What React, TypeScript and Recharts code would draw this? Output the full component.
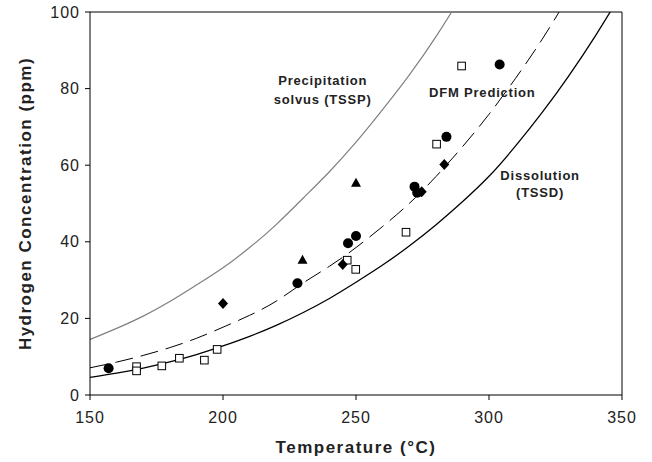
import {
  ComposedChart,
  XAxis,
  YAxis,
  Line,
  Scatter,
  ReferenceLine,
  ReferenceDot,
} from 'recharts';

// curve readings, temperature in °C
const curveTemps = [
  150, 160, 170, 180, 190, 200, 210, 220, 230, 240, 250, 260, 270, 280, 290,
  300, 310, 320, 330, 340, 350,
];
const tssdValues = [
  4.6, 5.7, 7.04, 8.64, 10.55, 12.82, 15.32, 18.19, 21.48, 25.2, 29.43, 33.92,
  38.91, 44.4, 50.45, 57.1, 65.03, 73.78, 83.35, 93.78, 105.1,
];
const dfmValues = [
  7.1, 8.58, 10.33, 12.37, 14.8, 17.7, 20.8, 24.5, 29.2, 33.6, 38.5, 44.0,
  50.0, 57.0, 64.8, 73.3, 82.7, 92.9, 104.2,
];
const tsspValues = [
  14.5, 17.4, 20.6, 24.4, 28.7, 33.2, 38.5, 44.5, 51.3, 58.3, 66, 74.5, 83.5,
  93.5, 104.5,
];

// measured points
const circleT = [157, 228, 247, 250, 272, 273, 284, 304];
const circleC = [7, 29.2, 39.6, 41.5, 54.4, 52.8, 67.4, 86.3];
const squareT = [167.5, 167.5, 177, 183.6, 193, 197.8, 246.7, 249.9, 268.8, 280.3, 289.7];
const squareC = [7.4, 6.3, 7.6, 9.6, 9.1, 11.9, 35.2, 32.8, 42.5, 65.5, 85.9];
const diamondT = [200, 245, 274.7, 283.2];
const diamondC = [23.9, 34.1, 53.1, 60.2];
const triangleT = [229.9, 250];
const triangleC = [35.2, 55.3];

const xTicks = [150, 200, 250, 300, 350];
const yTicks = [0, 20, 40, 60, 80, 100];

const notes = [
  { t: 237.5, c: 82, text: 'Precipitation' },
  { t: 237.5, c: 77.2, text: 'solvus (TSSP)' },
  { t: 297.5, c: 79, text: 'DFM Prediction' },
  { t: 319.2, c: 57.4, text: 'Dissolution' },
  { t: 319.2, c: 52.8, text: '(TSSD)' },
];

const toPoints = (ts: number[], cs: number[]) =>
  cs.map((c, i) => ({ t: ts[i], c }));

const FONT = '"Liberation Sans", Arial, sans-serif';

const CircleShape = (p: any) => <circle cx={p.cx} cy={p.cy} r={5} fill="#000" />;
const SquareShape = (p: any) => (
  <rect x={p.cx - 3.8} y={p.cy - 3.8} width={7.6} height={7.6} fill="#fff" stroke="#000" strokeWidth={1} />
);
const DiamondShape = (p: any) => (
  <polygon
    points={`${p.cx},${p.cy - 5.5} ${p.cx + 5},${p.cy} ${p.cx},${p.cy + 5.5} ${p.cx - 5},${p.cy}`}
    fill="#000"
  />
);
const TriangleShape = (p: any) => (
  <polygon
    points={`${p.cx},${p.cy - 5.5} ${p.cx + 5},${p.cy + 3.5} ${p.cx - 5},${p.cy + 3.5}`}
    fill="#000"
  />
);

const NoteLabel = (text: string) => (props: any) => {
  const { viewBox } = props;
  return (
    <text
      x={viewBox.x}
      y={viewBox.y}
      textAnchor="middle"
      dominantBaseline="central"
      fontFamily={FONT}
      fontWeight="bold"
      fontSize={13}
      letterSpacing={0.8}
      fill="#222"
    >
      {text}
    </text>
  );
};

const App = () => {
  const tssd = toPoints(curveTemps, tssdValues);
  const dfm = toPoints(curveTemps, dfmValues);
  const tssp = toPoints(curveTemps, tsspValues);

  return (
    <div style={{ position: 'absolute', left: 0, top: 0, width: 652, height: 462, background: '#fff' }}>
      <ComposedChart
        width={652}
        height={462}
        margin={{ top: 12, right: 30, bottom: 37, left: 30 }}
      >
        <XAxis
          type="number"
          dataKey="t"
          domain={[150, 350]}
          ticks={xTicks}
          allowDataOverflow
          height={30}
          stroke="#000"
          tickSize={5}
          tickMargin={12}
          tick={{ fill: '#222', fontSize: 16, fontFamily: FONT, letterSpacing: 1 }}
          label={{
            value: 'Temperature (°C)',
            position: 'insideBottom',
            offset: -28,
            style: { fontFamily: FONT, fontWeight: 'bold', fontSize: 17, letterSpacing: 1.5, fill: '#222' },
          }}
        />
        <YAxis
          type="number"
          dataKey="c"
          domain={[0, 100]}
          ticks={yTicks}
          allowDataOverflow
          width={60}
          stroke="#000"
          tickSize={5}
          tickMargin={5}
          tick={{ fill: '#222', fontSize: 16, fontFamily: FONT, letterSpacing: 1 }}
          label={{
            value: 'Hydrogen Concentration (ppm)',
            angle: -90,
            position: 'insideLeft',
            offset: -5,
            style: {
              textAnchor: 'middle',
              fontFamily: FONT,
              fontWeight: 'bold',
              fontSize: 17,
              letterSpacing: 1.5,
              fill: '#222',
            },
          }}
        />
        <ReferenceLine y={100} stroke="#000" />
        <ReferenceLine x={350} stroke="#000" />
        <Line
          data={tssp}
          dataKey="c"
          type="natural"
          stroke="#808080"
          strokeWidth={1.2}
          dot={false}
          isAnimationActive={false}
        />
        <Line
          data={dfm}
          dataKey="c"
          type="natural"
          stroke="#000"
          strokeWidth={1}
          strokeDasharray="18 8"
          dot={false}
          isAnimationActive={false}
        />
        <Line
          data={tssd}
          dataKey="c"
          type="natural"
          stroke="#000"
          strokeWidth={1.3}
          dot={false}
          isAnimationActive={false}
        />
        <Scatter data={toPoints(squareT, squareC)} dataKey="c" shape={SquareShape} isAnimationActive={false} />
        <Scatter data={toPoints(circleT, circleC)} dataKey="c" shape={CircleShape} isAnimationActive={false} />
        <Scatter data={toPoints(diamondT, diamondC)} dataKey="c" shape={DiamondShape} isAnimationActive={false} />
        <Scatter data={toPoints(triangleT, triangleC)} dataKey="c" shape={TriangleShape} isAnimationActive={false} />
        {notes.map((n) => (
          <ReferenceDot
            key={n.text}
            x={n.t}
            y={n.c}
            r={0}
            fill="none"
            stroke="none"
            label={NoteLabel(n.text)}
          />
        ))}
      </ComposedChart>
    </div>
  );
};

export default App;
